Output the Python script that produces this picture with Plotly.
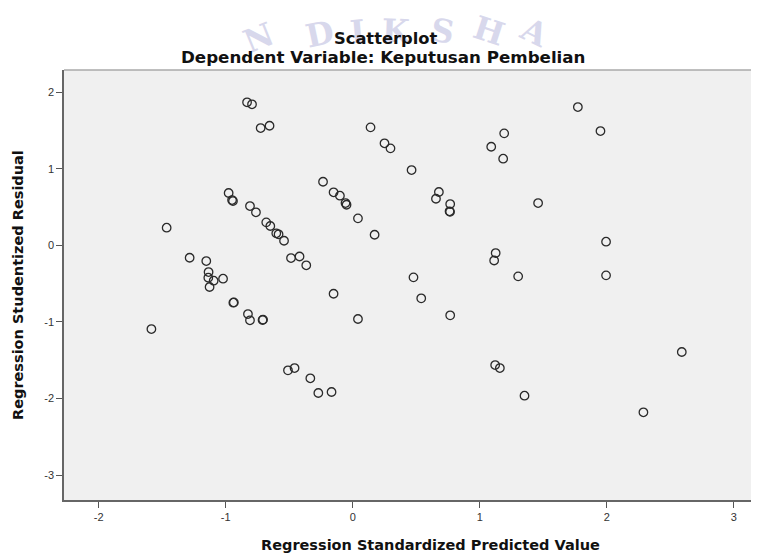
import plotly.graph_objects as go

# Regression Standardized Predicted Value
pred = [-0.832, -0.793, -0.725, -0.655, -0.977, -0.950, -0.943, -0.809, -0.762, -0.681,
        -0.649, -0.602, -0.584, -0.541, -1.465, -1.284, -1.153, -0.486, -0.419, -0.366,
        -1.135, -1.137, -1.095, -1.021, -1.127, -0.940, -0.936, -0.825, -0.809, -0.710,
        -0.706, -1.585, -0.510, -0.458, -0.334, -0.271, -0.167, -0.234, -0.151, -0.101,
        -0.057, -0.049, 0.041, 0.172, 0.140, 0.250, 0.297, 0.463, 0.678, 0.655,
        0.767, 0.762, 0.766, 1.090, 1.192, 1.184, 1.125, 1.113, -0.151, 0.041,
        0.478, 0.539, 0.767, 1.121, 1.158, 1.772, 1.950, 1.459, 1.994, 1.302,
        1.994, 2.590, 1.352, 2.288]
# Regression Studentized Residual
resid = [1.867, 1.841, 1.531, 1.561, 0.683, 0.591, 0.578, 0.513, 0.431, 0.300,
         0.252, 0.157, 0.144, 0.060, 0.230, -0.162, -0.205, -0.166, -0.146, -0.261,
         -0.349, -0.423, -0.462, -0.436, -0.544, -0.749, -0.745, -0.897, -0.979, -0.975,
         -0.970, -1.093, -1.632, -1.602, -1.736, -1.928, -1.915, 0.830, 0.692, 0.648,
         0.552, 0.530, 0.352, 0.138, 1.540, 1.332, 1.266, 0.983, 0.696, 0.608,
         0.539, 0.444, 0.437, 1.287, 1.462, 1.131, -0.101, -0.198, -0.632, -0.962,
         -0.418, -0.692, -0.914, -1.563, -1.602, 1.805, 1.492, 0.552, 0.047, -0.405,
         -0.392, -1.393, -1.963, -2.180]

x_ticks = [-2, -1, 0, 1, 2, 3]
y_ticks = [-3, -2, -1, 0, 1, 2]

fig = go.Figure()
fig.add_trace(go.Scatter(
    x=pred, y=resid, mode="markers",
    marker=dict(symbol="circle-open", size=8.5, color="#2a2a2a",
                line=dict(width=1.3, color="#2a2a2a")),
    hoverinfo="x+y", showlegend=False,
))

# page has an 8px body margin; figure is sized to fill the rest of the window
OFF = 8
W, H = 751, 546
L, R, T, B = 56, 1, 62, 54

fig.update_layout(
    width=W, height=H,
    margin=dict(l=L, r=R, t=T, b=B, pad=0),
    paper_bgcolor="white",
    plot_bgcolor="#f0f0f0",
    font=dict(family="Liberation Sans, Arial, sans-serif", color="#222"),
    xaxis=dict(range=[-2.273, 3.190], tickvals=x_ticks, ticktext=[str(v) for v in x_ticks],
               showgrid=False, zeroline=False, showline=True, linecolor="#666", linewidth=1.5,
               ticks="outside", ticklen=6, tickwidth=1, tickcolor="#555",
               tickfont=dict(size=11, color="#333")),
    yaxis=dict(range=[-3.325, 2.289], tickvals=y_ticks, ticktext=[str(v) for v in y_ticks],
               showgrid=False, zeroline=False, showline=True, linecolor="#666", linewidth=1.5,
               ticks="outside", ticklen=6, tickwidth=1, tickcolor="#555",
               tickfont=dict(size=11, color="#333")),
    shapes=[dict(type="line", xref="paper", yref="paper", x0=0, x1=1, y0=1, y1=1,
                 line=dict(color="#aaaaaa", width=1.5))],
)

pw = W - L - R
ph = H - T - B
def px(xpage):
    return (xpage - OFF - L) / pw
def py(ypage):
    return (H - B - (ypage - OFF)) / ph

# faint watermark letters at the top
wm = [("N", 258, 38, -22), ("D", 320, 34, -12), ("I", 357, 32, -5), ("K", 396, 31, 2),
      ("S", 442, 31, 10), ("H", 489, 31, 18), ("A", 534, 32, 26)]
for ch, xp, yp, ang in wm:
    fig.add_annotation(x=px(xp), y=py(yp), xref="paper", yref="paper", text="<b>" + ch + "</b>",
                       showarrow=False, textangle=ang, xanchor="center", yanchor="middle",
                       font=dict(family="DejaVu Serif, serif", size=32, color="#d8d8ec"))

title_font = "DejaVu Sans, sans-serif"
fig.add_annotation(x=px(385), y=py(38), xref="paper", yref="paper", text="<b>Scatterplot</b>",
                   showarrow=False, xanchor="center", yanchor="middle",
                   font=dict(family=title_font, size=16.3, color="#111"))
fig.add_annotation(x=px(383), y=py(57), xref="paper", yref="paper",
                   text="<b>Dependent Variable: Keputusan Pembelian</b>",
                   showarrow=False, xanchor="center", yanchor="middle",
                   font=dict(family=title_font, size=16.7, color="#111"))
fig.add_annotation(x=px(430), y=py(545), xref="paper", yref="paper",
                   text="<b>Regression Standardized Predicted Value</b>",
                   showarrow=False, xanchor="center", yanchor="middle",
                   font=dict(family=title_font, size=14.5, color="#111"))
fig.add_annotation(x=px(18), y=py(285), xref="paper", yref="paper",
                   text="<b>Regression Studentized Residual</b>", textangle=-90,
                   showarrow=False, xanchor="center", yanchor="middle",
                   font=dict(family=title_font, size=14.5, color="#111"))

fig.write_html("out.html")
